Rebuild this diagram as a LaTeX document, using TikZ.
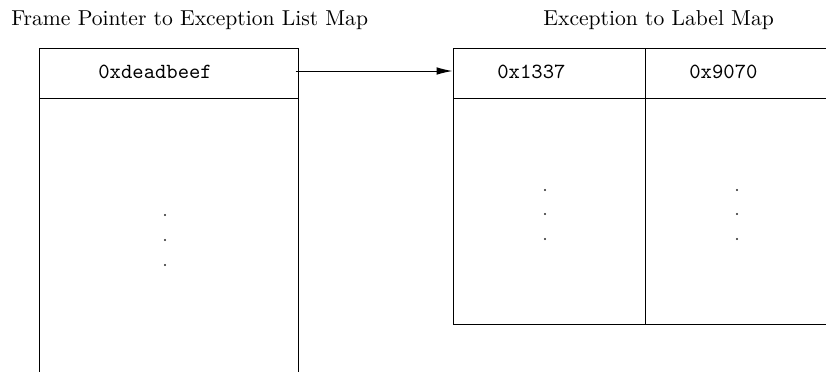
\documentclass[tikz,border=0pt]{standalone}
\usetikzlibrary{arrows.meta,fit}
\begin{document}
\begin{tikzpicture}[x=0.5pt,y=-0.5pt,
  cell/.style={draw, line width=0.5pt, inner sep=0pt},
  title/.style={anchor=base west, inner sep=0pt, font=\fontsize{10.8}{13}\selectfont},
  entry/.style={anchor=base west, inner sep=0pt, font=\fontsize{10.8}{13}\selectfont\ttfamily},
  ellip/.style={fill=black!85, radius=0.55pt}]
\useasboundingbox (0,0) rectangle (826,371);
\clip (0,0) rectangle (826,371);

% titles of the two tables
\node[title] (ttlA) at (11,25) {Frame Pointer to Exception List Map};
\node[title] (ttlB) at (543,25) {Exception to Label Map};

% frame pointer table
\node[cell, fit={(39,48) (298,98)}] (keyA) {};
\node[cell, fit={(39,98) (298,400)}] (bodyA) {};
\node[entry] (txtA) at (98,78) {0xdeadbeef};

% exception table: two columns
\node[cell, fit={(453,48) (645,98)}] (keyB) {};
\node[cell, fit={(645,48) (860,98)}] (keyC) {};
\node[cell, fit={(453,98) (645,324)}] (bodyB) {};
\node[cell, fit={(645,98) (860,324)}] (bodyC) {};
\node[entry] (txtB) at (497,78) {0x1337};
\node[entry] (txtC) at (689,78) {0x9070};

% vertical ellipses
\foreach \yy in {215,240,265} \fill[ellip] (165,\yy) circle;
\foreach \yy in {190,214,239} {
  \fill[ellip] (545,\yy) circle;
  \fill[ellip] (737,\yy) circle;
}

% pointer from the frame entry to the exception list
\draw[line width=0.5pt, -{Latex[length=8pt,width=3.8pt]}]
  ([xshift=-1.5pt,yshift=1pt]keyA.east) -- ([yshift=1pt]keyB.west);
\end{tikzpicture}
\end{document}
